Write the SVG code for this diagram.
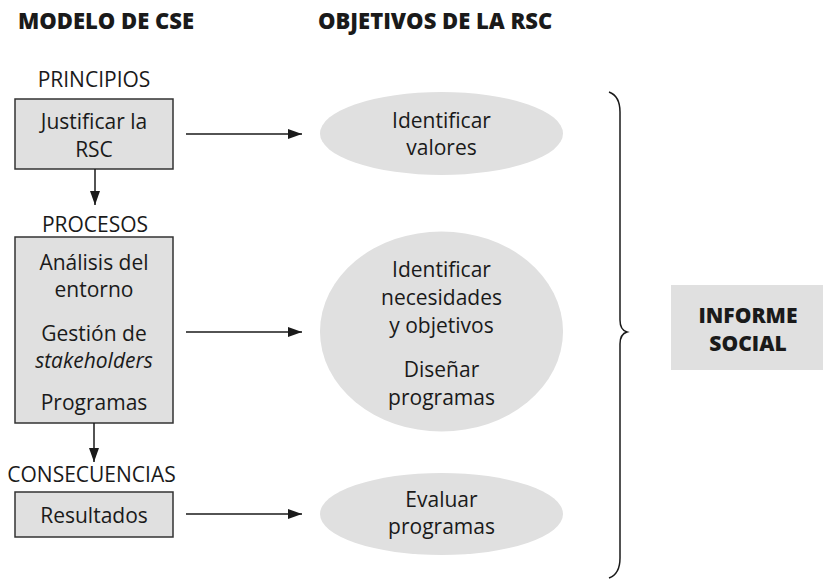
<svg xmlns="http://www.w3.org/2000/svg" width="823" height="583" viewBox="0 0 823 583">
<style>
  text { font-family: "Open Sans", "Noto Sans", "Liberation Sans", sans-serif; fill: #1a1a1a; }
  .h { font-size: 22px; font-weight: 800; }
  .t { font-size: 21px; text-anchor: middle; }
  .b { font-size: 21px; font-weight: 800; text-anchor: middle; }
  .box { fill: #e0e0e0; stroke: #333333; stroke-width: 1.5; }
  .ell { fill: #e0e0e0; }
  .conn { stroke: #1a1a1a; stroke-width: 1.5; fill: none; }
</style>
<defs>
  <marker id="ah" viewBox="0 0 14 10" refX="14" refY="5" markerWidth="14" markerHeight="10" markerUnits="userSpaceOnUse" orient="auto">
    <path d="M0,0 L14,5 L0,10 Z" fill="#1a1a1a"/>
  </marker>
</defs>
<rect width="823" height="583" fill="#ffffff"/>
<g id="headers">
  <text class="h" x="18" y="29">MODELO DE CSE</text>
  <text class="h" x="318" y="29">OBJETIVOS DE LA RSC</text>
</g>
<g id="principios">
  <text class="t" x="94" y="87">PRINCIPIOS</text>
  <rect class="box" x="15" y="99" width="158" height="70"/>
  <text class="t" x="94" y="129">Justificar la</text>
  <text class="t" x="94" y="157">RSC</text>
</g>
<g id="procesos">
  <text class="t" x="95" y="232">PROCESOS</text>
  <rect class="box" x="15" y="237" width="158" height="186"/>
  <text class="t" x="94" y="270">Análisis del</text>
  <text class="t" x="94" y="297">entorno</text>
  <text class="t" x="94" y="341">Gestión de</text>
  <text class="t" x="94" y="368" font-style="italic">stakeholders</text>
  <text class="t" x="94" y="410">Programas</text>
</g>
<g id="consecuencias">
  <text class="t" x="91.5" y="482">CONSECUENCIAS</text>
  <rect class="box" x="15" y="492" width="158" height="45"/>
  <text class="t" x="94" y="523">Resultados</text>
</g>
<g id="obj1">
  <ellipse class="ell" cx="441.5" cy="133.5" rx="121.5" ry="41.5"/>
  <text class="t" x="441.5" y="128">Identificar</text>
  <text class="t" x="441.5" y="155">valores</text>
</g>
<g id="obj2">
  <ellipse class="ell" cx="441.5" cy="331.5" rx="121.5" ry="100"/>
  <text class="t" x="441.5" y="277">Identificar</text>
  <text class="t" x="441.5" y="305">necesidades</text>
  <text class="t" x="441.5" y="333">y objetivos</text>
  <text class="t" x="441.5" y="377">Diseñar</text>
  <text class="t" x="441.5" y="405">programas</text>
</g>
<g id="obj3">
  <ellipse class="ell" cx="441.5" cy="514" rx="121.5" ry="41"/>
  <text class="t" x="441.5" y="507">Evaluar</text>
  <text class="t" x="441.5" y="534">programas</text>
</g>
<g id="informe">
  <rect x="671" y="285" width="152" height="85" fill="#e0e0e0"/>
  <text class="b" x="748" y="323">INFORME</text>
  <text class="b" x="748" y="351">SOCIAL</text>
</g>
<g id="connectors">
  <line class="conn" x1="95" y1="169" x2="95" y2="205" marker-end="url(#ah)"/>
  <line class="conn" x1="94" y1="423" x2="94" y2="462" marker-end="url(#ah)"/>
  <line class="conn" x1="186" y1="134" x2="302" y2="134" marker-end="url(#ah)"/>
  <line class="conn" x1="186" y1="332" x2="302" y2="332" marker-end="url(#ah)"/>
  <line class="conn" x1="186" y1="514" x2="302" y2="514" marker-end="url(#ah)"/>
  <path class="conn" d="M609,92 Q620,96 620,112 L620,320 Q620,330 627,332 Q620,334 620,344 L620,558 Q620,574 609,578"/>
</g>
</svg>
